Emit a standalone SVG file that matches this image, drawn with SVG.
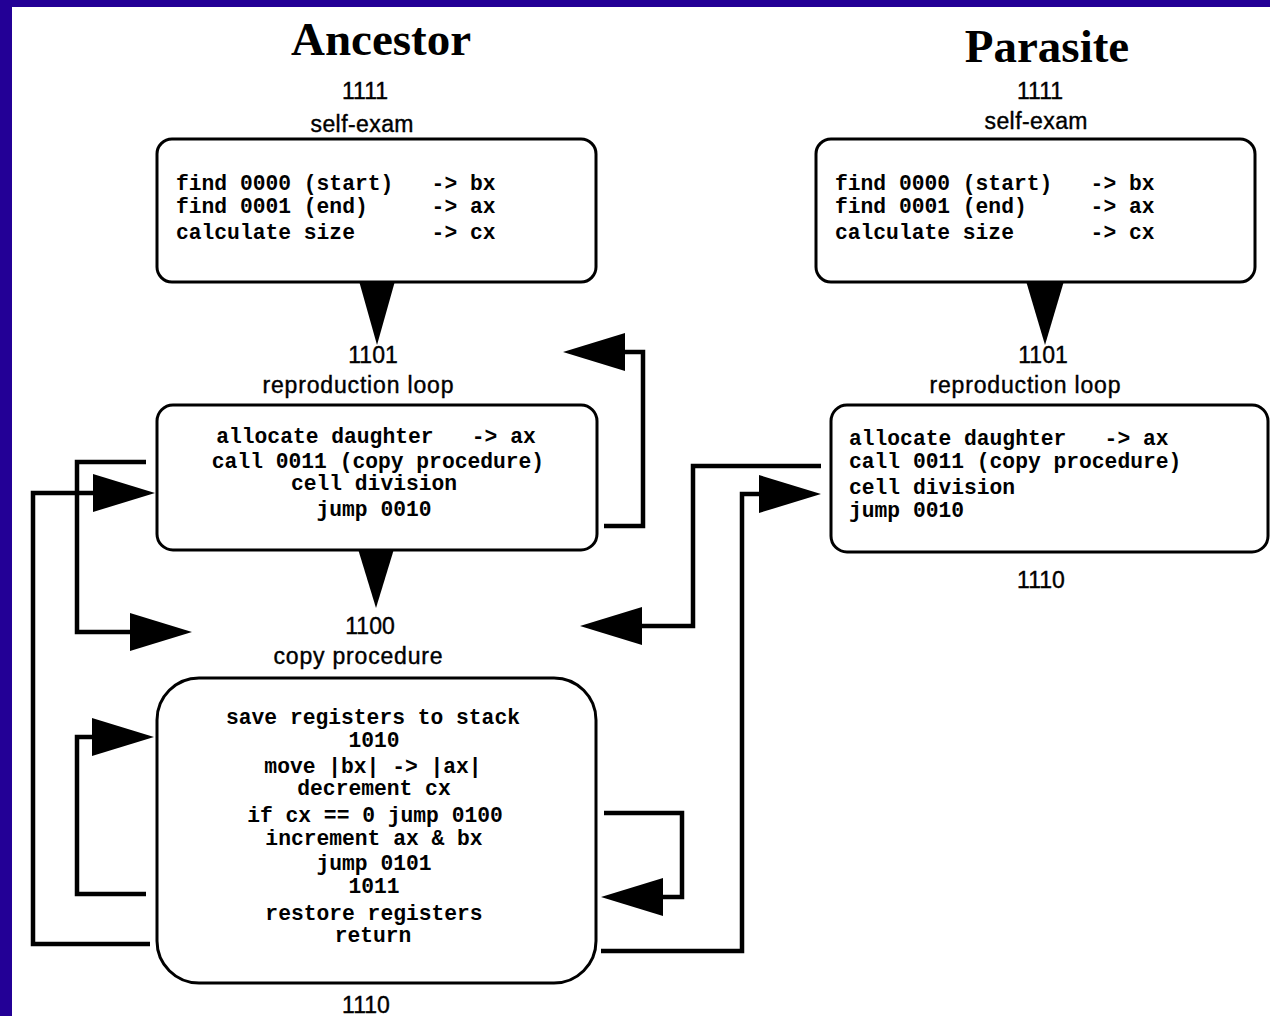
<svg xmlns="http://www.w3.org/2000/svg" width="1270" height="1016" viewBox="0 0 1270 1016">
<style>
.title{font-family:"Liberation Serif","Times New Roman",serif;font-weight:bold;font-size:47px;text-anchor:middle;fill:#000}
.lbl{font-family:"Liberation Sans",Arial,sans-serif;font-size:23px;text-anchor:middle;fill:#000;stroke:#000;stroke-width:0.4}
.code{font-family:"Liberation Mono","Courier New",monospace;font-weight:bold;font-size:21.3px;fill:#000;white-space:pre}
.mid{text-anchor:middle}
.box{fill:#fff;stroke:#000;stroke-width:3}
.wire{fill:none;stroke:#000;stroke-width:4.5;marker-end:url(#ah)}
.head{fill:#000}
</style>
<defs>
<marker id="ah" markerUnits="userSpaceOnUse" viewBox="0 0 62 38" markerWidth="62" markerHeight="38" refX="0" refY="19" orient="auto">
<path d="M0,0 L62,19 L0,38 Z" fill="#000"/>
</marker>
</defs>
<rect x="0" y="0" width="1270" height="1016" fill="#fff"/>
<rect x="0" y="0" width="1270" height="7" fill="#230096"/>
<rect x="0" y="0" width="12" height="1016" fill="#230096"/>

<text class="title" x="381" y="55">Ancestor</text>
<text class="title" x="1047" y="62">Parasite</text>

<g id="anc-selfexam">
<text class="lbl" x="365" y="99">1111</text>
<text class="lbl" x="362" y="132" textLength="103">self-exam</text>
<rect class="box" x="157" y="139" width="439" height="143" rx="15"/>
<text class="code" x="176" y="190">find 0000 (start)   -&gt; bx</text>
<text class="code" x="176" y="213">find 0001 (end)     -&gt; ax</text>
<text class="code" x="176" y="239">calculate size      -&gt; cx</text>
</g>

<g id="par-selfexam">
<text class="lbl" x="1040" y="99">1111</text>
<text class="lbl" x="1036" y="129" textLength="103">self-exam</text>
<rect class="box" x="816" y="139" width="439" height="143" rx="15"/>
<text class="code" x="835" y="190">find 0000 (start)   -&gt; bx</text>
<text class="code" x="835" y="213">find 0001 (end)     -&gt; ax</text>
<text class="code" x="835" y="239">calculate size      -&gt; cx</text>
</g>

<g id="anc-reproloop">
<text class="lbl" x="373" y="363">1101</text>
<text class="lbl" x="358" y="393" textLength="191">reproduction loop</text>
<rect class="box" x="157" y="405" width="440" height="145" rx="16"/>
<text class="code mid" x="376" y="443">allocate daughter   -&gt; ax</text>
<text class="code mid" x="378" y="468">call 0011 (copy procedure)</text>
<text class="code mid" x="374" y="490">cell division</text>
<text class="code mid" x="374" y="516">jump 0010</text>
</g>

<g id="par-reproloop">
<text class="lbl" x="1043" y="363">1101</text>
<text class="lbl" x="1025" y="393" textLength="191">reproduction loop</text>
<rect class="box" x="831" y="405" width="437" height="147" rx="16"/>
<text class="code" x="849" y="445">allocate daughter   -&gt; ax</text>
<text class="code" x="849" y="468">call 0011 (copy procedure)</text>
<text class="code" x="849" y="494">cell division</text>
<text class="code" x="849" y="517">jump 0010</text>
<text class="lbl" x="1041" y="588">1110</text>
</g>

<g id="anc-copyproc">
<text class="lbl" x="370" y="634">1100</text>
<text class="lbl" x="358" y="664" textLength="169">copy procedure</text>
<rect class="box" x="157" y="678" width="439" height="305" rx="42"/>
<text class="code mid" x="373" y="724">save registers to stack</text>
<text class="code mid" x="374" y="747">1010</text>
<text class="code mid" x="373" y="773">move |bx| -&gt; |ax|</text>
<text class="code mid" x="374" y="795">decrement cx</text>
<text class="code mid" x="375" y="822">if cx == 0 jump 0100</text>
<text class="code mid" x="374" y="845">increment ax &amp; bx</text>
<text class="code mid" x="374" y="870">jump 0101</text>
<text class="code mid" x="374" y="893">1011</text>
<text class="code mid" x="374" y="920">restore registers</text>
<text class="code mid" x="373" y="942">return</text>
<text class="lbl" x="366" y="1013">1110</text>
</g>

<g id="connectors">
<polygon class="head" points="359,281 395,281 377,345"/>
<polygon class="head" points="1026,281 1064,281 1045,345"/>
<polygon class="head" points="358,549 394,549 376,608"/>
<path class="wire" d="M604,526 H643 V352 H625"/>
<path class="wire" d="M146,462 H77 V632 H130"/>
<path class="wire" d="M150,944 H33 V493 H93"/>
<path class="wire" d="M146,894 H77 V737 H92"/>
<path class="wire" d="M604,813 H682 V897 H663"/>
<path class="wire" d="M601,951 H742 V494 H759"/>
<path class="wire" d="M821,466 H693 V626 H642"/>
</g>
</svg>
